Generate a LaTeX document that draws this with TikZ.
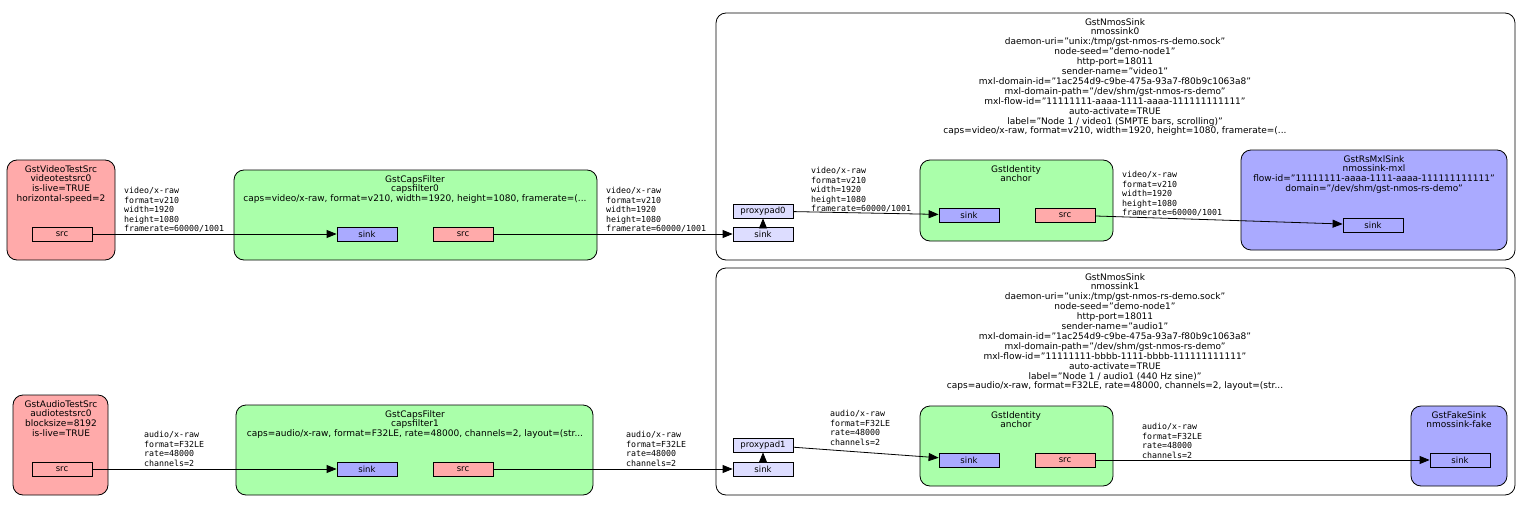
\documentclass[tikz,border=0pt]{standalone}
\usepackage{fontspec}
\setmainfont{DejaVu Sans}
\setmonofont{DejaVu Sans Mono}
\usetikzlibrary{arrows.meta}
\definecolor{srcred}{HTML}{FFAAAA}
\definecolor{filtgreen}{HTML}{AAFFAA}
\definecolor{sinkblue}{HTML}{AAAAFF}
\definecolor{ghostblue}{HTML}{DDDDFF}
\tikzset{
    elem/.style={draw,thick,rounded corners=10pt},
    pad/.style={draw,thick,minimum width=60pt,minimum height=14pt,inner sep=0pt,font=\fontsize{8.5}{9}\selectfont},
    title/.style={anchor=north,align=center,inner sep=0pt,font=\fontsize{9}{9.9}\selectfont},
    caps/.style={anchor=north west,align=left,inner sep=0pt,font=\ttfamily\fontsize{8.3}{9.5}\selectfont},
    link/.style={thick,-{Triangle[length=10pt,width=8pt]}}
}
\begin{document}
\begin{tikzpicture}[x=1pt,y=-1pt]
    \useasboundingbox (0,0) rectangle (1520,508);
    %elements
    \draw[elem,fill=srcred] (7,160) rectangle (115,260);
    \node[title] at (61,165) {GstVideoTestSrc\\videotestsrc0\\is-live=TRUE\\horizontal-speed=2};
    \draw[elem,fill=filtgreen] (234,170) rectangle (597,260);
    \node[title] at (415,175) {GstCapsFilter\\capsfilter0\\caps=video/x-raw, format=v210, width=1920, height=1080, framerate=(...};
    \draw[elem,fill=white] (716,13) rectangle (1515,260);
    \node[title] at (1115,18) {GstNmosSink\\nmossink0\\daemon-uri="unix:/tmp/gst-nmos-rs-demo.sock"\\node-seed="demo-node1"\\http-port=18011\\sender-name="video1"\\mxl-domain-id="1ac254d9-c9be-475a-93a7-f80b9c1063a8"\\mxl-domain-path="/dev/shm/gst-nmos-rs-demo"\\mxl-flow-id="11111111-aaaa-1111-aaaa-111111111111"\\auto-activate=TRUE\\label="Node 1 / video1 (SMPTE bars, scrolling)"\\caps=video/x-raw, format=v210, width=1920, height=1080, framerate=(...};
    \draw[elem,fill=filtgreen] (920,160) rectangle (1113,241);
    \node[title] at (1016,165) {GstIdentity\\anchor};
    \draw[elem,fill=sinkblue] (1241,150) rectangle (1507,250);
    \node[title] at (1374,155) {GstRsMxlSink\\nmossink-mxl\\flow-id="11111111-aaaa-1111-aaaa-111111111111"\\domain="/dev/shm/gst-nmos-rs-demo"};

    \draw[elem,fill=srcred] (13,395) rectangle (108,495);
    \node[title] at (61,400) {GstAudioTestSrc\\audiotestsrc0\\blocksize=8192\\is-live=TRUE};
    \draw[elem,fill=filtgreen] (236,405) rectangle (593,495);
    \node[title] at (415,410) {GstCapsFilter\\capsfilter1\\caps=audio/x-raw, format=F32LE, rate=48000, channels=2, layout=(str...};
    \draw[elem,fill=white] (716,268) rectangle (1515,495);
    \node[title] at (1115,273) {GstNmosSink\\nmossink1\\daemon-uri="unix:/tmp/gst-nmos-rs-demo.sock"\\node-seed="demo-node1"\\http-port=18011\\sender-name="audio1"\\mxl-domain-id="1ac254d9-c9be-475a-93a7-f80b9c1063a8"\\mxl-domain-path="/dev/shm/gst-nmos-rs-demo"\\mxl-flow-id="11111111-bbbb-1111-bbbb-111111111111"\\auto-activate=TRUE\\label="Node 1 / audio1 (440 Hz sine)"\\caps=audio/x-raw, format=F32LE, rate=48000, channels=2, layout=(str...};
    \draw[elem,fill=filtgreen] (920,406) rectangle (1113,486);
    \node[title] at (1016,411) {GstIdentity\\anchor};
    \draw[elem,fill=sinkblue] (1411,406) rectangle (1507,486);
    \node[title] at (1459,411) {GstFakeSink\\nmossink-fake};
    %pads
    \node[pad,fill=srcred] (vsrc) at (62,234) {src};
    \node[pad,fill=sinkblue] (cf0sink) at (367,234) {sink};
    \node[pad,fill=srcred] (cf0src) at (463,234) {src};
    \node[pad,fill=ghostblue] (ns0proxy) at (763,211) {proxypad0};
    \node[pad,fill=ghostblue] (ns0sink) at (763,234) {sink};
    \node[pad,fill=sinkblue] (id0sink) at (969,215) {sink};
    \node[pad,fill=srcred] (id0src) at (1065,215) {src};
    \node[pad,fill=sinkblue] (mxlsink) at (1373,225) {sink};

    \node[pad,fill=srcred] (asrc) at (62,469) {src};
    \node[pad,fill=sinkblue] (cf1sink) at (367,469) {sink};
    \node[pad,fill=srcred] (cf1src) at (463,469) {src};
    \node[pad,fill=ghostblue] (ns1proxy) at (763,445) {proxypad1};
    \node[pad,fill=ghostblue] (ns1sink) at (763,469) {sink};
    \node[pad,fill=sinkblue] (id1sink) at (969,460) {sink};
    \node[pad,fill=srcred] (id1src) at (1065,460) {src};
    \node[pad,fill=sinkblue] (fakesink) at (1460,460) {sink};
    %links
    \draw[link] (vsrc) -- (cf0sink);
    \draw[link] (cf0src) -- (ns0sink);
    \draw[link] (ns0sink) -- (ns0proxy);
    \draw[link] (ns0proxy) -- (id0sink);
    \draw[link] (id0src) -- (mxlsink);
    \draw[link] (asrc) -- (cf1sink);
    \draw[link] (cf1src) -- (ns1sink);
    \draw[link] (ns1sink) -- (ns1proxy);
    \draw[link] (ns1proxy) -- (id1sink);
    \draw[link] (id1src) -- (fakesink);
    %caps labels
    \node[caps] at (124,187) {video/x-raw\\format=v210\\width=1920\\height=1080\\framerate=60000/1001};
    \node[caps] at (606,187) {video/x-raw\\format=v210\\width=1920\\height=1080\\framerate=60000/1001};
    \node[caps] at (811,167) {video/x-raw\\format=v210\\width=1920\\height=1080\\framerate=60000/1001};
    \node[caps] at (1122,171) {video/x-raw\\format=v210\\width=1920\\height=1080\\framerate=60000/1001};
    \node[caps] at (144,431) {audio/x-raw\\format=F32LE\\rate=48000\\channels=2};
    \node[caps] at (626,431) {audio/x-raw\\format=F32LE\\rate=48000\\channels=2};
    \node[caps] at (830,410) {audio/x-raw\\format=F32LE\\rate=48000\\channels=2};
    \node[caps] at (1142,423) {audio/x-raw\\format=F32LE\\rate=48000\\channels=2};
\end{tikzpicture}
\end{document}
